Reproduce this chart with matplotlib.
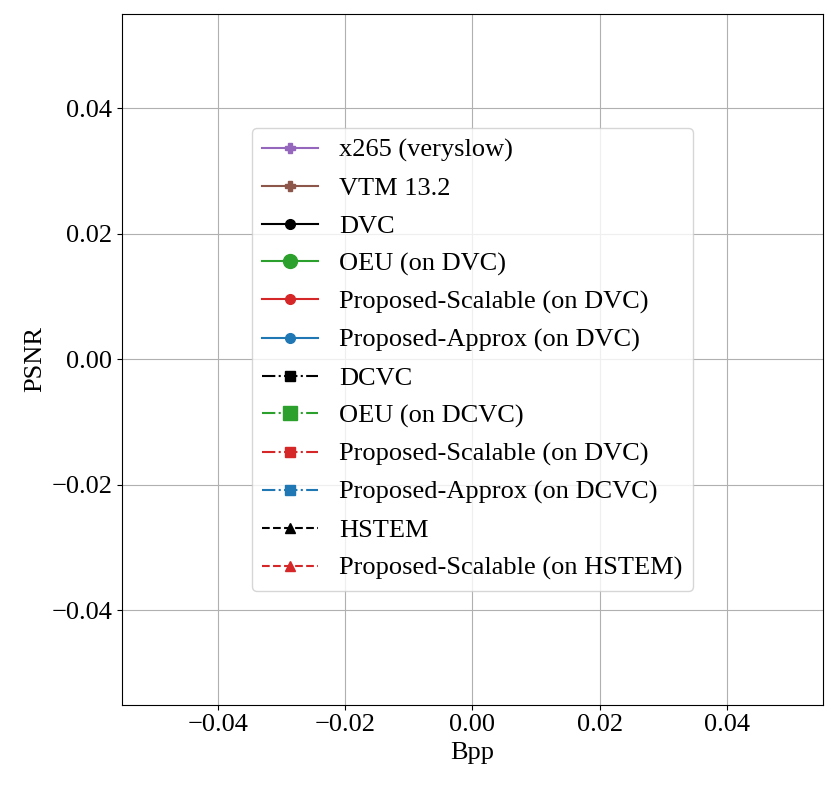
import matplotlib
matplotlib.use("Agg")
import matplotlib.pyplot as plt

plt.rcParams['font.family'] = ['Liberation Serif', 'DejaVu Serif']
plt.rcParams['font.size'] = 19
plt.rcParams['axes.unicode_minus'] = True

# Series names (the chart has no data points, only the legend)
labels = [
    "x265 (veryslow)",
    "VTM 13.2",
    "DVC",
    "OEU (on DVC)",
    "Proposed-Scalable (on DVC)",
    "Proposed-Approx (on DVC)",
    "DCVC",
    "OEU (on DCVC)",
    "Proposed-Scalable (on DVC)",
    "Proposed-Approx (on DCVC)",
    "HSTEM",
    "Proposed-Scalable (on HSTEM)",
]
bpp = [[] for _ in labels]
psnr = [[] for _ in labels]

colors = ["tab:purple", "tab:brown", "black", "tab:green", "tab:red", "tab:blue",
          "black", "tab:green", "tab:red", "tab:blue", "black", "tab:red"]
markers = ["P", "P", "o", "o", "o", "o", "s", "s", "s", "s", "^", "^"]
msizes = [7, 7, 7, 10, 7, 7, 7, 10, 7, 7, 7, 7]
styles = ["-", "-", "-", "-", "-", "-", "-.", "-.", "-.", "-.", "--", "--"]

fig, ax = plt.subplots(figsize=(8.31, 7.89), dpi=100)
for i, lab in enumerate(labels):
    ax.plot(bpp[i], psnr[i], linestyle=styles[i], marker=markers[i],
            color=colors[i], markersize=msizes[i], linewidth=1.5, label=lab)

ax.set_xlabel("Bpp")
ax.set_ylabel("PSNR")
ax.grid(True)
ax.legend(loc="center", fontsize=19, labelspacing=0.54, handlelength=2.1)
plt.subplots_adjust(left=0.147, right=0.99, top=0.982, bottom=0.107)
plt.savefig("out.png", dpi=100)
